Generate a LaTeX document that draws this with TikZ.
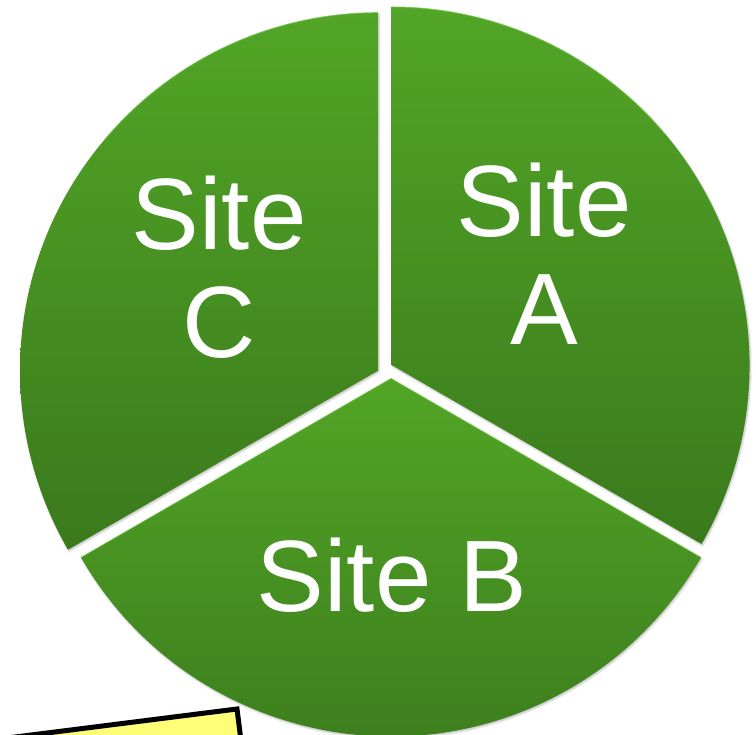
\documentclass[tikz,border=0pt]{standalone}
\usepackage{fontspec}
\setmainfont{Liberation Sans}
\usetikzlibrary{shadows.blur}
\definecolor{gtop}{RGB}{82,165,38}
\definecolor{gbot}{RGB}{58,122,28}
\definecolor{ghi}{RGB}{110,196,70}
\definecolor{boxyellow}{RGB}{255,255,119}
\tikzset{
  slice/.style={top color=gtop, bottom color=gbot},
  sliceshadow/.style={blur shadow={shadow opacity=25, shadow xshift=1pt, shadow yshift=-1.5pt, shadow blur radius=2pt}},
  rim/.style={draw=ghi, line width=1pt, line join=round},
  lbl/.style={text=white, anchor=base, inner sep=0pt, font=\fontsize{101.5}{108}\selectfont}
}
\begin{document}
\begin{tikzpicture}[x=1pt,y=1pt]
\useasboundingbox (0,0) rectangle (756,735);
% apex points of the three slices
\coordinate (aA) at (391.5,370);
\coordinate (aC) at (378,364.3);
\coordinate (aB) at (391,356.5);
% shadows
\path[sliceshadow] (aA) -- ++(-30:358) arc[start angle=-30, end angle=90, radius=358] -- cycle;
\path[sliceshadow] (aC) -- ++(90:358) arc[start angle=90, end angle=210, radius=358] -- cycle;
\path[sliceshadow] (aB) -- ++(210:358) arc[start angle=210, end angle=330, radius=358] -- cycle;
% slices
\shade[slice] (aA) -- ++(-30:358) arc[start angle=-30, end angle=90, radius=358] -- cycle;
\shade[slice] (aC) -- ++(90:358) arc[start angle=90, end angle=210, radius=358] -- cycle;
\shade[slice] (aB) -- ++(210:358) arc[start angle=210, end angle=330, radius=358] -- cycle;
% bevel rims on the upper edges
\draw[rim, opacity=0.7] (aA) ++(90:358) arc[start angle=90, end angle=40, radius=357.5];
\draw[rim, opacity=0.7] (aC) ++(90:358) arc[start angle=90, end angle=140, radius=357.5];
\draw[rim, opacity=0.6] (aB) ++(210:358) -- (aB) -- ++(330:358);
% labels
\node[lbl] (tA1) at (544,498) {Site};
\node[lbl] (tA2) at (544,390) {A};
\node[lbl] (tC1) at (219,485) {Site};
\node[lbl] (tC2) at (219,377) {C};
\node[lbl] (tB) at (392,123) {Site B};
% yellow box partly visible at the bottom left
\begin{scope}
\clip (0,0) rectangle (756,735);
\draw[line width=5pt, fill=boxyellow, line join=miter, rotate around={7.2:(237,26)}] (237,26) rectangle (-300,-120);
\end{scope}
\end{tikzpicture}
\end{document}
